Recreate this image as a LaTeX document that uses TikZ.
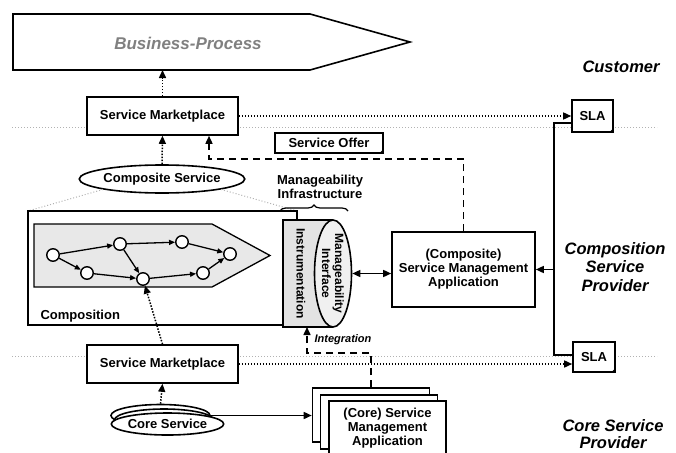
\documentclass[tikz,border=0pt]{standalone}
\usepackage{fontspec}
\setmainfont{Liberation Sans}
\usetikzlibrary{arrows.meta,shapes.geometric,decorations.pathreplacing}

\tikzset{
  box/.style={draw, line width=1.6pt, fill=white, inner sep=0pt, align=center,
    font=\fontsize{13}{14}\selectfont\bfseries},
  wfnode/.style={circle, draw, line width=1.4pt, fill=white, minimum size=12.5pt, inner sep=0pt},
  flow/.style={->, line width=1.3pt, >={Triangle[length=6pt,width=5pt]}},
  dots/.style={line width=1.5pt, dash pattern=on 1.5pt off 1.5pt},
  sepline/.style={gray!60, line width=1pt, dash pattern=on 1pt off 2pt},
  dashline/.style={line width=1.5pt, dash pattern=on 7pt off 5pt},
  region/.style={align=center, font=\fontsize{16.5}{18.5}\selectfont\bfseries\itshape},
}
\newcommand\dogear[1]{\fill (#1.south east) -- ++(-5,0) -- ++(5,-5) -- cycle;}

\begin{document}
\begin{tikzpicture}[x=1pt, y=-1pt, >={Triangle[length=8pt,width=7pt]}]
\useasboundingbox (0,0) rectangle (676,452);
% Separations :
\draw[sepline] (12,127) -- (657,127);
\draw[sepline] (12,356) -- (657,356);
%
% Business-Process
\draw[line width=1.6pt] (13,14) -- (310,14) -- (410,42) -- (310,70) -- (13,70) -- cycle;
\node[text=gray, font=\fontsize{17}{19}\selectfont\bfseries\itshape] (bp) at (188,43) {Business-Process};
\coordinate (bpB) at (162.5,70);
%
\node[box, minimum width=151, minimum height=38] (smTop) at (162.5,116) {Service Marketplace};
\node[box, minimum width=151, minimum height=38] (smLow) at (162.5,364) {Service Marketplace};
\node[box, ellipse, minimum width=160, minimum height=28] (cs) at (162,179) {Composite Service};
\node[box, minimum width=108, minimum height=20] (offer) at (329,143) {Service Offer};
\dogear{offer}
\node[box, minimum width=41, minimum height=32] (sla1) at (592.5,116) {SLA};
\dogear{sla1}
\node[box, minimum width=42, minimum height=30] (sla2) at (594,357) {SLA};
\dogear{sla2}
\node[box, minimum width=143, minimum height=75] (csma) at (463.5,269.5)
  {(Composite)\\Service Management\\Application};
%
% Composition
\draw[sepline] (cs.south west) -- (28,211);
\draw[sepline] (cs.south east) -- (297,211);
\node[box, minimum width=269, minimum height=114] (comp) at (162.5,268) {};
\node[anchor=west, font=\fontsize{13}{14}\selectfont\bfseries] (compLbl) at (37,316) {Composition};
\draw[line width=1.3pt, fill=gray!18] (34,224) -- (212,224) -- (270,255.5) -- (212,287) -- (34,287) -- cycle;
\node[wfnode] (c1) at (53,255) {};
\node[wfnode] (c2) at (87,273) {};
\node[wfnode] (c3) at (120,244) {};
\node[wfnode] (c4) at (143,279) {};
\node[wfnode] (c5) at (182,242) {};
\node[wfnode] (c6) at (203,273) {};
\node[wfnode] (c7) at (230,254) {};
\draw[flow] (c1) -- (c3);
\draw[flow] (c1) -- (c2);
\draw[flow] (c2) -- (c4);
\draw[flow] (c3) -- (c4);
\draw[flow] (c3) -- (c5);
\draw[flow] (c4) -- (c6);
\draw[flow] (c5) -- (c7);
\draw[flow] (c6) -- (c7);
%
% Manageability infrastructure
\fill[gray!22] (283,220) rectangle (333,327);
\draw[line width=1.6pt] (333,220) -- (283,220) -- (283,327) -- (333,327);
\node[draw, ellipse, line width=1.6pt, fill=gray!12, minimum width=37, minimum height=107, inner sep=0pt] (mif) at (333,273.5) {};
\node[rotate=-90, font=\fontsize{12}{13}\selectfont\bfseries] (instr) at (301,273.5) {Instrumentation};
\node[rotate=-90, align=center, font=\fontsize{12}{13}\selectfont\bfseries] (mifTxt) at (333,273.5) {Manageability\\Interface};
\draw[decorate, decoration={brace, amplitude=6pt}, line width=1.2pt] (280,211) -- (348,211);
\node[align=center, font=\fontsize{13}{13.5}\selectfont\bfseries] (infra) at (320,187) {Manageability\\Infrastructure};
%
% Core services
\node[box, ellipse, minimum width=99, minimum height=22] (core3) at (160.5,415.5) {};
\node[box, ellipse, minimum width=99, minimum height=22] (core2) at (164,420) {};
\node[box, ellipse, minimum width=99, minimum height=22] (core1) at (167.5,424) {Core Service};
\node[box, minimum width=117, minimum height=54] (cma3) at (371,415) {};
\node[box, minimum width=117, minimum height=54] (cma2) at (379,422) {};
\node[box, minimum width=117, minimum height=54] (cma1) at (387.5,428) {(Core) Service\\Management\\Application};
%
% Liens :
\draw[dots,->] (smTop.north) -- (bpB);
\draw[dots,->] (cs.north) -- (smTop.south);
\draw[dots,->] (smTop.east) -- (smTop.east -| sla1.west);
\draw[dots,->] (smLow.east) -- (smLow.east -| sla2.west);
\draw[dots,->] (smLow.north) -- (c4);
\draw[dots,->] (core3.north) -- (smLow.south);
\draw[line width=1.5pt,->] (core3.east) -- (core3.east -| cma3.west);
\coordinate (cylB) at (307,327);
\draw[dashline,->] (cma3.north) |- (307,353) -- (cylB);
\node[font=\fontsize{11}{12}\selectfont\bfseries\itshape] (intgLbl) at (343,340) {Integration};
\coordinate (offerTurn) at (209,159);
\draw[dashline,->] (csma.north) |- (offerTurn) -- (offerTurn |- smTop.south);
\draw[line width=1.5pt,<->] (mif.east) -- (mif.east -| csma.west);
\coordinate (busTop) at (554,123);
\coordinate (busBot) at (554,355);
\draw[line width=1.5pt] (busTop -| sla1.west) -- (busTop) -- (busBot) -- (busBot -| sla2.west);
\draw[line width=1.5pt,->] (busTop |- csma.east) -- (csma.east);
%
% Etiquettes :
\node[region] (cust) at (621,67) {Customer};
\node[region] (csp) at (615,267) {Composition\\Service\\Provider};
\node[region, font=\fontsize{16.5}{17}\selectfont\bfseries\itshape] (corep) at (613,434) {Core Service\\Provider};
\end{tikzpicture}
\end{document}
